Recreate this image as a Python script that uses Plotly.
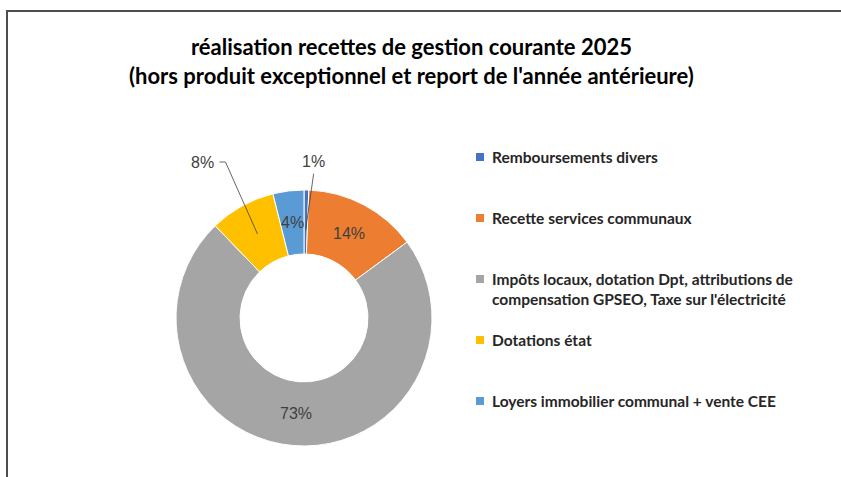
import math
import plotly.graph_objects as go

# ---- data ----
categories = [
    "Remboursements divers",
    "Recette services communaux",
    "Impôts locaux, dotation Dpt, attributions de<br>compensation GPSEO, Taxe sur l'électricité",
    "Dotations état",
    "Loyers immobilier communal + vente CEE",
]
values = [0.6, 14.3, 72.9, 8.3, 3.9]
colors = ["#4472C4", "#ED7D31", "#A5A5A5", "#FFC000", "#5B9BD5"]
outside_labels = [True, False, False, True, False]
title_lines = [
    "réalisation recettes de gestion courante 2025",
    "(hors produit exceptionnel et report de l'année antérieure)",
]

# ---- geometry (pixels) ----
W, H = 841, 477
CX, CY, R = 304, 318, 128
HOLE = 0.5
LABEL_FONT = dict(family="Liberation Sans, Arial", size=16, color="#404040")


def px(x):
    return x / W


def py(y):
    return 1 - y / H


fig = go.Figure()
fig.add_trace(go.Pie(
    labels=categories,
    values=values,
    sort=False,
    direction="clockwise",
    rotation=0,
    hole=HOLE,
    marker=dict(colors=colors, line=dict(color="white", width=1)),
    textinfo="none",
    domain=dict(x=[px(CX - R), px(CX + R)], y=[py(CY + R), py(CY - R)]),
    showlegend=False,
    hoverinfo="label+percent",
))

annotations = []
shapes = []

# data labels, positioned from the data angles
total = sum(values)
cum = 0
label_offsets = {0: (8, -56, "center"), 3: (-38, -72, "right")}
for i, v in enumerate(values):
    mid = (cum + v / 2) / total * 2 * math.pi
    cum += v
    txt = f"{round(v / total * 100)}%"
    rmid = R * (1 + HOLE) / 2
    if not outside_labels[i]:
        annotations.append(dict(x=px(CX + rmid * math.sin(mid)), y=py(CY - rmid * math.cos(mid)),
                                text=txt, showarrow=False, xanchor="center", yanchor="middle",
                                xref="paper", yref="paper", font=LABEL_FONT))
        continue
    rm = rmid * (0.92 if i == 0 else 1.0)
    x0 = CX + rm * math.sin(mid)
    y0 = CY - rm * math.cos(mid)
    dx, dy, anchor = label_offsets[i]
    lx, ly = x0 + dx, y0 + dy
    if anchor == "right":
        path = f"M {px(x0)},{py(y0)} L {px(lx + 6)},{py(ly)} L {px(lx)},{py(ly)}"
        annotations.append(dict(x=px(lx - 3), y=py(ly), text=txt, showarrow=False,
                                xanchor="right", yanchor="middle", xref="paper", yref="paper",
                                font=LABEL_FONT))
    else:
        path = f"M {px(x0)},{py(y0)} L {px(lx)},{py(ly)}"
        annotations.append(dict(x=px(lx), y=py(ly - 2), text=txt, showarrow=False,
                                xanchor="center", yanchor="bottom", xref="paper", yref="paper",
                                font=LABEL_FONT))
    shapes.append(dict(type="path", path=path, xref="paper", yref="paper",
                       line=dict(color="#404040", width=0.8)))

# legend (manual, Excel-like layout)
LEG_X, LEG_Y0, LEG_DY = 476, 157, 61
for i, (lab, col) in enumerate(zip(categories, colors)):
    yc = LEG_Y0 + i * LEG_DY
    shapes.append(dict(type="rect", xref="paper", yref="paper",
                       x0=px(LEG_X), x1=px(LEG_X + 8), y0=py(yc + 4), y1=py(yc - 4),
                       fillcolor=col, line=dict(width=0)))
    nlines = lab.count("<br>") + 1
    annotations.append(dict(x=px(LEG_X + 14), y=py(yc + (nlines - 1) * 10), text=lab,
                            showarrow=False, xanchor="left", yanchor="middle", align="left",
                            xref="paper", yref="paper",
                            font=dict(family="Lato", size=15.5, color="#262626", weight="bold")))

# title
annotations.append(dict(x=px(411), y=py(61), text="<br>".join(title_lines), showarrow=False,
                        xanchor="center", yanchor="middle", align="center",
                        xref="paper", yref="paper",
                        font=dict(family="Lato", size=22, color="#000000", weight="bold")))

# chart frame
shapes.append(dict(type="path", path=f"M {px(7)},{py(H + 5)} L {px(7)},{py(11)} L {px(W + 5)},{py(11)}",
                   xref="paper", yref="paper", line=dict(color="#4d4d4d", width=2)))

fig.update_layout(
    width=W, height=H,
    margin=dict(l=0, r=0, t=0, b=0),
    paper_bgcolor="white", plot_bgcolor="white",
    annotations=annotations,
    shapes=shapes,
)

fig.write_html("out.html", config={"displayModeBar": False},
               post_script="document.body.style.margin='0';document.body.style.overflow='hidden';")
